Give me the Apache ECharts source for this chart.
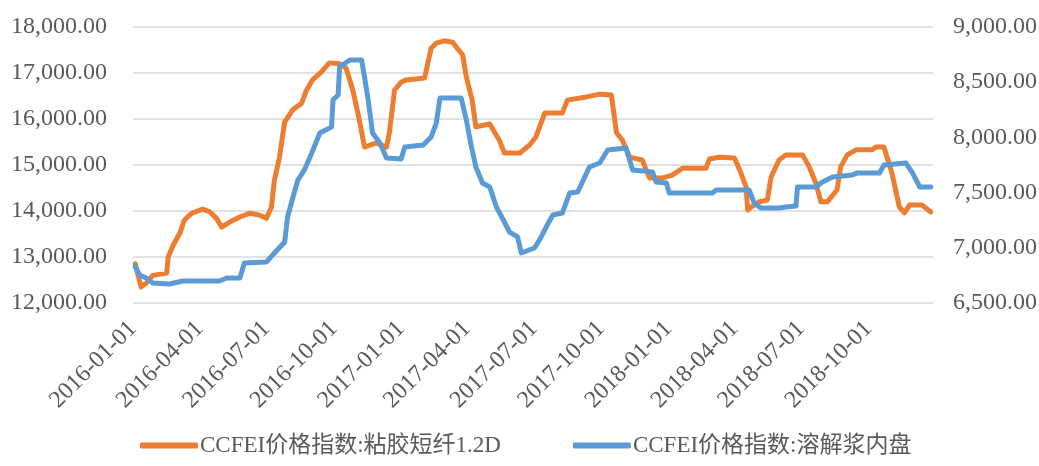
<!DOCTYPE html>
<html>
<head>
<meta charset="utf-8">
<script src="https://cdn.jsdelivr.net/npm/echarts@6/dist/echarts.min.js"></script>
<style>
  html, body { margin: 0; padding: 0; background: #fff; }
  #chart { width: 1039px; height: 466px; }
</style>
</head>
<body>
<div id="chart"></div>
<script>
// CCFEI price index: viscose staple fibre 1.2D (left axis)
const viscoseName = "CCFEI价格指数:粘胶短纤1.2D";
const viscoseDates = [
  "2016-01-04","2016-01-12","2016-01-19","2016-01-28","2016-02-16","2016-02-18","2016-02-25","2016-03-05",
  "2016-03-11","2016-03-21","2016-04-05","2016-04-15","2016-04-24","2016-05-01","2016-05-12","2016-05-26",
  "2016-06-08","2016-06-22","2016-07-01","2016-07-08","2016-07-12","2016-07-19","2016-07-26","2016-08-06",
  "2016-08-18","2016-08-25","2016-09-02","2016-09-14","2016-09-25","2016-10-09","2016-10-18","2016-10-27",
  "2016-11-05","2016-11-12","2016-11-28","2016-12-12","2016-12-16","2016-12-23","2017-01-01","2017-01-08",
  "2017-02-02","2017-02-11","2017-02-18","2017-03-01","2017-03-12","2017-03-26","2017-03-31","2017-04-08",
  "2017-04-13","2017-05-02","2017-05-15","2017-05-22","2017-06-12","2017-06-25","2017-07-04","2017-07-16",
  "2017-08-09","2017-08-16","2017-09-11","2017-09-29","2017-10-15","2017-10-22","2017-10-30","2017-11-09",
  "2017-11-26","2017-12-06","2017-12-24","2018-01-06","2018-01-20","2018-02-21","2018-02-26","2018-03-11",
  "2018-04-01","2018-04-10","2018-04-17","2018-04-19","2018-04-24","2018-05-05","2018-05-16","2018-05-21",
  "2018-06-01","2018-06-10","2018-07-03","2018-07-12","2018-07-21","2018-07-28","2018-08-06","2018-08-19",
  "2018-08-24","2018-09-02","2018-09-14","2018-10-06","2018-10-11","2018-10-22","2018-11-02","2018-11-12",
  "2018-11-19","2018-11-26","2018-12-13","2018-12-25"
];
const viscoseValues = [
  12850,12350,12430,12600,12650,13000,13260,13520,
  13800,13950,14040,13980,13840,13650,13760,13870,
  13950,13910,13840,14080,14670,15170,15930,16200,
  16340,16630,16850,17020,17220,17200,17100,16630,
  15980,15390,15480,15390,15700,16630,16800,16850,
  16890,17540,17650,17700,17670,17390,16910,16410,
  15830,15890,15540,15260,15260,15430,15610,16130,
  16130,16410,16480,16540,16520,15700,15540,15170,
  15110,14720,14720,14780,14930,14930,15130,15170,
  15150,14820,14520,14020,14090,14200,14240,14740,
  15110,15220,15220,14960,14610,14200,14200,14460,
  14960,15220,15330,15330,15390,15390,14820,14090,
  13960,14130,14130,13980
];

// CCFEI price index: dissolving pulp, domestic (right axis)
const pulpName = "CCFEI价格指数:溶解浆内盘";
const pulpDates = [
  "2016-01-04","2016-01-10","2016-01-19","2016-01-28","2016-02-20","2016-03-09","2016-04-28","2016-05-08",
  "2016-05-26","2016-06-01","2016-07-01","2016-07-12","2016-07-26","2016-07-30","2016-08-06","2016-08-13",
  "2016-08-22","2016-09-01","2016-09-12","2016-09-28","2016-09-30","2016-10-07","2016-10-09","2016-10-23",
  "2016-11-08","2016-11-12","2016-11-17","2016-11-23","2016-12-03","2016-12-12","2017-01-01","2017-01-06",
  "2017-01-31","2017-02-11","2017-02-18","2017-02-23","2017-03-24","2017-03-31","2017-04-07","2017-04-13",
  "2017-04-22","2017-05-02","2017-05-11","2017-05-22","2017-05-29","2017-06-09","2017-06-14","2017-07-02",
  "2017-07-09","2017-07-18","2017-07-27","2017-08-09","2017-08-19","2017-08-30","2017-09-15","2017-09-29",
  "2017-10-10","2017-11-04","2017-11-13","2017-12-10","2017-12-15","2017-12-29","2018-01-02","2018-03-02",
  "2018-03-07","2018-04-21","2018-04-28","2018-05-07","2018-06-01","2018-06-10","2018-06-24","2018-06-26",
  "2018-07-21","2018-07-30","2018-08-13","2018-09-09","2018-09-16","2018-10-16","2018-10-22","2018-11-21",
  "2018-11-30","2018-12-10","2018-12-25"
];
const pulpValues = [
  6830,6754,6726,6681,6672,6699,6699,6726,
  6726,6862,6871,6953,7053,7279,7451,7614,
  7705,7859,8040,8094,8339,8384,8638,8701,
  8701,8547,8339,8040,7949,7813,7804,7913,
  7931,8004,8130,8357,8357,8158,7913,7732,
  7587,7551,7370,7234,7143,7098,6953,6998,
  7071,7188,7297,7315,7496,7505,7732,7768,
  7886,7904,7705,7687,7596,7587,7496,7496,
  7524,7524,7406,7360,7360,7370,7379,7551,
  7551,7596,7641,7660,7678,7678,7750,7768,
  7678,7551,7551
];

// x axis labels, one per quarter
const quarterLabels = [
  "2016-01-01","2016-04-01","2016-07-01","2016-10-01",
  "2017-01-01","2017-04-01","2017-07-01","2017-10-01",
  "2018-01-01","2018-04-01","2018-07-01","2018-10-01"
];
const xStart = "2016-01-01";
const xEnd = "2018-12-28";

const serif = "'Liberation Serif', 'Times New Roman', serif";
const legendFont = "'Liberation Serif', 'Noto Sans CJK SC', serif";
const textColor = "#595959";
const gridColor = "#D9D9D9";
const DAY = 86400000;

function toTime(s){
  const p = s.split("-").map(Number);
  return Date.UTC(p[0], p[1] - 1, p[2]);
}
// x positions are days counted from the axis start
function toDay(s){
  return Math.round((toTime(s) - toTime(xStart)) / DAY);
}
function fmtDay(v){
  const d = new Date(toTime(xStart) + Math.round(v) * DAY);
  const mm = String(d.getUTCMonth() + 1).padStart(2, "0");
  const dd = String(d.getUTCDate()).padStart(2, "0");
  return `${d.getUTCFullYear()}-${mm}-${dd}`;
}
function fmtNum(v){
  return Number(v).toLocaleString("en-US", { minimumFractionDigits: 2, maximumFractionDigits: 2 });
}

const chart = echarts.init(document.getElementById("chart"), null, { renderer: "canvas" });

chart.setOption({
  animation: false,
  backgroundColor: "#fff",
  grid: { left: 133, right: 106, top: 27, bottom: 163, containLabel: false, outerBoundsMode: "none" },
  legend: {
    left: 140,
    top: 434,
    padding: 0,
    itemWidth: 58,
    itemHeight: 6,
    itemGap: 72,
    icon: "roundRect",
    textStyle: { fontFamily: legendFont, fontSize: 23, color: textColor, padding: [0, 0, 0, -3] },
    data: [viscoseName, pulpName]
  },
  xAxis: {
    type: "value",
    min: 0,
    max: toDay(xEnd),
    axisLine: { show: false },
    axisTick: { show: false },
    splitLine: { show: false },
    axisLabel: {
      customValues: quarterLabels.map(toDay),
      formatter: (v) => fmtDay(v),
      rotate: 45,
      margin: 22,
      fontFamily: serif,
      fontSize: 24,
      color: textColor,
      showMinLabel: true,
      showMaxLabel: true
    }
  },
  yAxis: [
    {
      type: "value",
      min: 12000,
      max: 18000,
      interval: 1000,
      axisLine: { show: false },
      axisTick: { show: false },
      splitLine: { lineStyle: { color: gridColor, width: 1.5 } },
      axisLabel: { formatter: fmtNum, margin: 26, fontFamily: serif, fontSize: 24, color: textColor }
    },
    {
      type: "value",
      min: 6500,
      max: 9000,
      interval: 500,
      axisLine: { show: false },
      axisTick: { show: false },
      splitLine: { show: false },
      axisLabel: { formatter: fmtNum, margin: 20, fontFamily: serif, fontSize: 24, color: textColor }
    }
  ],
  series: [
    {
      name: viscoseName,
      type: "line",
      yAxisIndex: 0,
      showSymbol: false,
      color: "#ED7D31",
      lineStyle: { width: 5, color: "#ED7D31", cap: "round", join: "round" },
      data: viscoseDates.map((d, i) => [toDay(d), viscoseValues[i]])
    },
    {
      name: pulpName,
      type: "line",
      yAxisIndex: 1,
      showSymbol: false,
      color: "#5B9BD5",
      lineStyle: { width: 5, color: "#5B9BD5", cap: "round", join: "round" },
      data: pulpDates.map((d, i) => [toDay(d), pulpValues[i]])
    }
  ]
});
</script>
</body>
</html>
